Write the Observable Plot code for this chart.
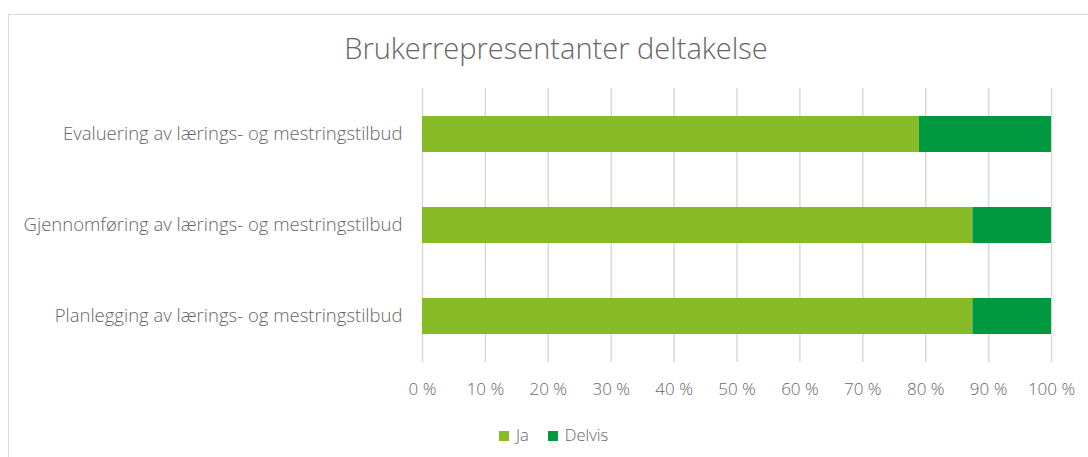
<!DOCTYPE html>
<html>
<head>
<meta charset="utf-8">
<script src="https://cdn.jsdelivr.net/npm/d3@7"></script>
<script src="https://cdn.jsdelivr.net/npm/@observablehq/plot@0.6"></script>
<style>
  html, body { margin: 0; padding: 0; background: #fff; width: 1088px; height: 457px; overflow: hidden; }
  #frame { position: absolute; left: 8px; top: 14px; width: 1100px; height: 460px; border: 1px solid #d9d9d9; box-sizing: border-box; }
  #title { position: absolute; left: 0; top: 28px; width: 1112px; text-align: center; font-family: "Open Sans", sans-serif; font-weight: 300; font-size: 29px; color: #666; }
  #chart { position: absolute; left: 0; top: 0; }
  #legend { position: absolute; top: 423px; left: 499px; font-family: "Open Sans", sans-serif; font-weight: 300; font-size: 16.5px; color: #666; display: flex; gap: 19px; }
  #legend span.sw { display: inline-block; width: 10px; height: 10px; margin-right: 7px; }
</style>
</head>
<body>
<div id="frame"></div>
<div id="title">Brukerrepresentanter deltakelse</div>
<div id="chart"></div>
<div id="legend"></div>
<script>
const categories = [
  "Evaluering av lærings- og mestringstilbud",
  "Gjennomføring av lærings- og mestringstilbud",
  "Planlegging av lærings- og mestringstilbud"
];
const series = ["Ja", "Delvis"];
const jaValues = [79, 87.5, 87.5];
const delvisValues = [21, 12.5, 12.5];
const colors = ["#88bb28", "#009940"];
const xTicks = [0, 10, 20, 30, 40, 50, 60, 70, 80, 90, 100];

const data = [];
categories.forEach((c, i) => {
  data.push({category: c, series: "Ja", value: jaValues[i]});
  data.push({category: c, series: "Delvis", value: delvisValues[i]});
});

const chart = Plot.plot({
  width: 1088,
  height: 410,
  marginLeft: 422,
  marginRight: 37,
  marginTop: 88,
  marginBottom: 48,
  style: { fontFamily: "Open Sans, sans-serif", fontWeight: 300, fontSize: "16px", color: "#666", background: "transparent" },
  x: { domain: [0, 100], ticks: xTicks, tickFormat: d => d + " %", label: null },
  y: { domain: categories, paddingInner: 0.6, paddingOuter: 0.3, label: null },
  color: { domain: series, range: colors },
  marks: [
    Plot.gridX(xTicks, { stroke: "#d9d9d9", strokeOpacity: 1, strokeWidth: 1.5 }),
    Plot.barX(data, Plot.stackX({ y: "category", x: "value", fill: "series", order: series })),
    Plot.axisX({ ticks: xTicks, tickSize: 0, tickPadding: 20, tickFormat: d => d + " %", fontSize: 17, fill: "#666", label: null }),
    Plot.axisY({ tickSize: 0, tickPadding: 20, fontSize: 18.5, fill: "#666", label: null })
  ]
});
document.getElementById("chart").appendChild(chart);

const legend = document.getElementById("legend");
series.forEach((s, i) => {
  const item = document.createElement("div");
  item.innerHTML = `<span class="sw" style="background:${colors[i]}"></span>${s}`;
  legend.appendChild(item);
});
</script>
</body>
</html>
